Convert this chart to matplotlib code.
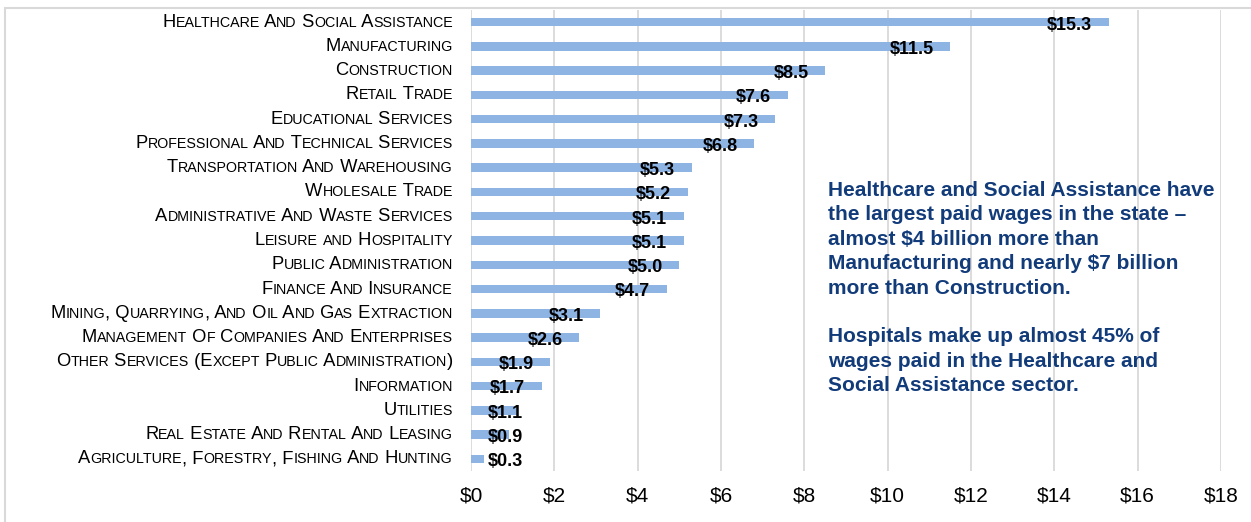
import matplotlib
matplotlib.use("Agg")
import matplotlib.pyplot as plt
from matplotlib.patches import Rectangle
from matplotlib.offsetbox import TextArea, HPacker, AnnotationBbox

# sector wages, billions of dollars (top to bottom)
sectors = [
    "Healthcare And Social Assistance",
    "Manufacturing",
    "Construction",
    "Retail Trade",
    "Educational Services",
    "Professional And Technical Services",
    "Transportation And Warehousing",
    "Wholesale Trade",
    "Administrative And Waste Services",
    "Leisure and Hospitality",
    "Public Administration",
    "Finance And Insurance",
    "Mining, Quarrying, And Oil And Gas Extraction",
    "Management Of Companies And Enterprises",
    "Other Services (Except Public Administration)",
    "Information",
    "Utilities",
    "Real Estate And Rental And Leasing",
    "Agriculture, Forestry, Fishing And Hunting",
]
wages = [15.3, 11.5, 8.5, 7.6, 7.3, 6.8, 5.3, 5.2, 5.1, 5.1, 5.0, 4.7,
         3.1, 2.6, 1.9, 1.7, 1.1, 0.9, 0.3]
xticks = [0, 2, 4, 6, 8, 10, 12, 14, 16, 18]
xticklabels = ["$" + str(t) for t in xticks]

note = ("Healthcare and Social Assistance have\n"
        "the largest paid wages in the state \u2013\n"
        "almost $4 billion more than\n"
        "Manufacturing and nearly $7 billion\n"
        "more than Construction.\n"
        "\n"
        "Hospitals make up almost 45% of\n"
        "wages paid in the Healthcare and\n"
        "Social Assistance sector.")

FONT = "Liberation Sans"
BAR = "#8EB4E3"
GRID = "#D9D9D9"
NAVY = "#123B7A"

W, H = 1251, 522
fig = plt.figure(figsize=(W / 100, H / 100), dpi=100)
ax = fig.add_axes([471 / W, 1 - 471 / H, 750 / W, 461 / H])

n = len(sectors)
ypos = list(range(n))
ax.barh(ypos, wages, height=0.35, color=BAR, zorder=2)
ax.set_ylim(n - 0.5, -0.5)
ax.set_xlim(0, 18)

ax.set_xticks(xticks)
ax.set_xticklabels(xticklabels, fontsize=15, family=FONT)
ax.set_yticks(ypos)
ax.set_yticklabels([])
ax.tick_params(axis="both", length=0)
ax.tick_params(axis="x", pad=11)
ax.grid(axis="x", color=GRID, lw=1.3)
ax.set_axisbelow(True)
for s in ax.spines.values():
    s.set_visible(False)

# value labels, inside the bar end
for y, v in zip(ypos, wages):
    if v - 0.4 > 1.25:
        ax.text(v - 0.4, y + 0.12, "$%.1f" % v, ha="right", va="center",
                fontsize=13, fontweight="bold", family=FONT, zorder=3)
    else:
        ax.text(0.4, y + 0.12, "$%.1f" % v, ha="left", va="center",
                fontsize=13, fontweight="bold", family=FONT, zorder=3)


# category labels in small caps
def small_caps(label):
    runs = []
    for ch in label:
        big = not ch.islower()
        if runs and runs[-1][1] == big:
            runs[-1][0] += ch.upper()
        else:
            runs.append([ch.upper(), big])
    parts = []
    for txt, big in runs:
        parts.append(TextArea(txt, textprops=dict(
            fontsize=13.2 if big else 10.3, family=FONT, color="black")))
    return HPacker(children=parts, align="baseline", pad=0, sep=0)


for y, lab in zip(ypos, sectors):
    ab = AnnotationBbox(small_caps(lab), (0, y), xycoords=("axes fraction", "data"),
                        xybox=(-13, 0), boxcoords="offset points",
                        box_alignment=(1, 0.5), frameon=False, pad=0)
    ax.add_artist(ab)

fig.text(828 / W, 1 - 181 / H, note, ha="left", va="top", fontsize=15,
         fontweight="bold", color=NAVY, family=FONT, linespacing=1.36)

# light frame around the chart
fig.patches.append(Rectangle((5 / W, -0.1), 1.2, 1.1 - 8 / H, transform=fig.transFigure,
                             fill=False, ec=GRID, lw=1.5))

fig.savefig("out.png", dpi=100)
